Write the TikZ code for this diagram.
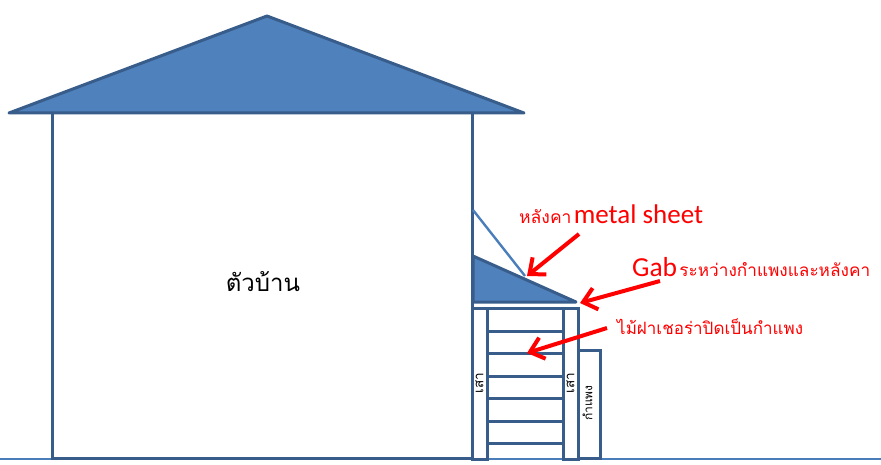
\documentclass[tikz,border=0pt]{standalone}
\usepackage{fontspec}
\setmainfont{Carlito}
\newfontfamily\thaifont[Script=Thai]{Loma}
\usetikzlibrary{arrows.meta}
\definecolor{edgeblue}{HTML}{385D8A}
\definecolor{fillblue}{HTML}{4F81BD}
\definecolor{lineblue}{HTML}{4A7EBB}
\tikzset{
  x=1pt,y=-1pt,
  solid part/.style={draw=edgeblue,fill=fillblue,line width=3pt,line join=round},
  frame part/.style={draw=edgeblue,fill=white,line width=3pt},
  board part/.style={draw=edgeblue,line width=3pt},
  thin part/.style={draw=lineblue,line width=2.4pt},
  callout/.style={draw=red,line width=4pt,-{Straight Barb[length=13pt,width=22pt,line width=4pt]}},
  redtext/.style={text=red,inner sep=0pt,anchor=west},
  vert/.style={rotate=90,inner sep=0pt,text=black}
}
\begin{document}
\begin{tikzpicture}
\useasboundingbox (0,0) rectangle (881,465);
% ground
\draw[thin part] (0,459) -- (881,459);
% house
\draw[frame part] (52,113) rectangle (472,458);
\draw[solid part] (267,16) -- (524,113) -- (9,113) -- cycle;
% fence boards
\foreach \yy in {331,353,376,398,421,443}{\draw[board part] (487,\yy) -- (563,\yy);}
\draw[board part] (472,308) -- (578,308);
% posts and wall
\draw[frame part] (578,350) rectangle (600,458);
\draw[frame part] (472,308) rectangle (487,459);
\draw[frame part] (563,308) rectangle (578,459);
% metal sheet
\draw[thin part] (473,210) -- (525,276);
\draw[solid part] (473,256) -- (576,302) -- (473,302) -- cycle;
% labels
\node[inner sep=0pt,font=\thaifont\fontsize{24}{28}\selectfont,text=black] (house) at (263,282) {ตัวบ้าน};
\node[vert,font=\thaifont\fontsize{13.5}{14}\selectfont] (post1) at (479.5,383) {เสา};
\node[vert,font=\thaifont\fontsize{13.5}{14}\selectfont] (post2) at (570.5,383) {เสา};
\node[vert,font=\thaifont\fontsize{12}{14}\selectfont] (wall) at (587.5,403) {กำแพง};
\node[redtext] (sheet) at (519,214) {{\thaifont\fontsize{17.5}{20}\selectfont หลังคา} {\fontsize{27}{28}\selectfont metal sheet}};
\node[redtext] (gab) at (632,267) {{\fontsize{27.5}{28}\selectfont Gab} {\thaifont\fontsize{17.2}{20}\selectfont ระหว่างกำแพงและหลังคา}};
\node[redtext] (board) at (617,327) {\thaifont\fontsize{17}{20}\selectfont ไม้ฝาเชอร่าปิดเป็นกำแพง};
% callouts
\coordinate (a1s) at (579,234); \coordinate (a1e) at (527,276);
\coordinate (a2s) at (660,281); \coordinate (a2e) at (580,303);
\coordinate (a3s) at (607,328); \coordinate (a3e) at (527,353);
\draw[callout] (a1s) -- (a1e);
\draw[callout] (a2s) -- (a2e);
\draw[callout] (a3s) -- (a3e);
\end{tikzpicture}
\end{document}
